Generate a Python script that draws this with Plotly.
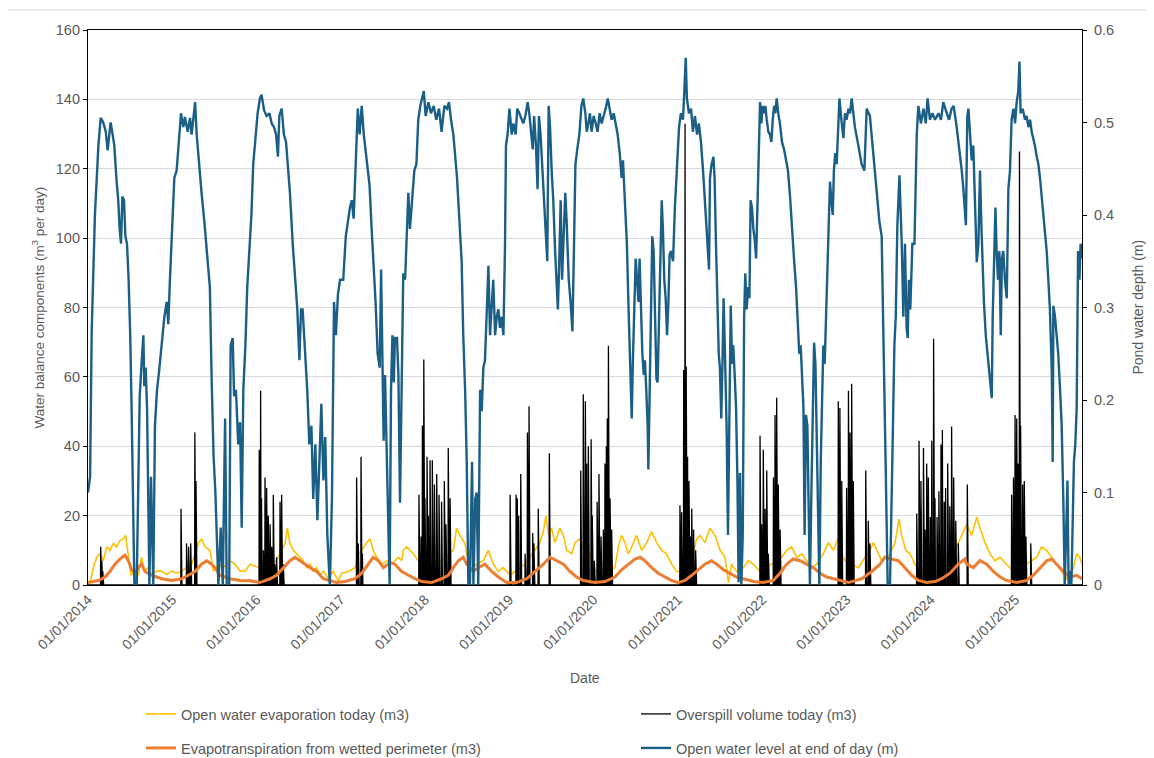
import numpy as np
import pandas as pd
import plotly.graph_objects as go

START = pd.Timestamp("2014-01-01")
END_DAY = 4307  # last day shown on the axis (days after START)

# ---- Open water level at end of day (m), secondary axis ----
level_day = [0, 9, 16, 30, 45, 55, 66, 77, 85, 91, 98, 105, 114, 124, 131, 137, 143, 149, 156, 162, 169, 176, 183, 189, 195, 201, 211, 218, 224, 233, 240, 244, 250, 256, 261, 266, 273, 279, 283, 290, 299, 308, 319, 331, 341, 348, 355, 365, 374, 384, 394, 403, 413, 420, 432, 442, 449, 458, 464, 471, 481, 492, 504, 515, 528,
             536, 544, 552, 558, 565, 575, 584, 594, 601, 612, 618, 627, 633, 641, 651, 659, 666, 673, 682, 690, 699, 708, 716, 726, 735, 745, 752, 763, 774, 786, 796, 806, 815, 823, 829, 839, 849, 858, 866, 875, 887, 897, 907, 916, 923, 930, 940, 950, 959, 968, 976, 985, 994, 1002, 1011, 1020, 1028, 1037, 1048, 1057, 1066, 1074, 1083, 1092,
             1106, 1117, 1125, 1135, 1143, 1151, 1160, 1169, 1177, 1186, 1195, 1203, 1212, 1220, 1229, 1238, 1246, 1255, 1264, 1270, 1275, 1281, 1287, 1294, 1301, 1307, 1313, 1319, 1325, 1330, 1339, 1345, 1352, 1359, 1366, 1374, 1381, 1388, 1395, 1405, 1414, 1423, 1431, 1440, 1449, 1455, 1463, 1475, 1486, 1498, 1509, 1521, 1532, 1544, 1556, 1564, 1573, 1583, 1590, 1599, 1608,
             1619, 1626, 1634, 1641, 1648, 1655, 1664, 1670, 1678, 1684, 1691, 1699, 1706, 1713, 1720, 1727, 1735, 1742, 1749, 1756, 1764, 1771, 1778, 1785, 1792, 1800, 1807, 1811, 1818, 1826, 1836, 1843, 1853, 1860, 1869, 1878, 1886, 1895, 1905, 1912, 1920, 1927, 1933, 1941, 1948, 1954, 1961, 1970, 1979, 1985, 1990, 1996, 2002, 2009, 2016, 2024, 2031, 2036, 2042, 2048, 2054, 2061, 2068, 2074, 2083, 2091, 2099, 2106, 2112, 2120, 2129, 2138, 2146, 2155,
             2161, 2168, 2175, 2182, 2191, 2200, 2208, 2217, 2226, 2234, 2243, 2252, 2260, 2269, 2278, 2286, 2295, 2304, 2312, 2318, 2324, 2330, 2335, 2341, 2347, 2353, 2356, 2361, 2367, 2373, 2379, 2385, 2390, 2396, 2402, 2408, 2413, 2419, 2425, 2428, 2434, 2439, 2445, 2451, 2457, 2463, 2468, 2474, 2480, 2486, 2491, 2497, 2503, 2509, 2515, 2520, 2526, 2535, 2543, 2552, 2561, 2569, 2578, 2584, 2590, 2595, 2604, 2613, 2621, 2630, 2639, 2647, 2656, 2665, 2673, 2682, 2691,
             2695, 2702, 2710, 2715, 2721, 2727, 2733, 2738, 2744, 2750, 2754, 2760, 2767, 2773, 2779, 2785, 2791, 2796, 2802, 2808, 2814, 2819, 2825, 2831, 2837, 2843, 2848, 2854, 2860, 2866, 2871, 2877, 2883, 2889, 2895, 2900, 2906, 2912, 2918, 2923, 2929, 2935, 2941, 2948, 2955, 2961, 2967, 2973, 2978, 2984, 2991, 2998, 3007, 3016, 3025, 3033, 3042, 3050, 3059, 3068, 3076, 3082, 3088, 3094, 3100, 3105, 3111, 3117, 3123, 3128, 3134, 3140, 3146, 3152, 3157, 3163, 3169, 3175, 3180, 3186, 3192, 3198, 3204, 3209, 3215, 3221, 3227, 3232, 3238, 3244, 3250, 3256,
             3266, 3273, 3280, 3287, 3295, 3302, 3309, 3316, 3323, 3338, 3352, 3364, 3374, 3388, 3403, 3417, 3429, 3439, 3449, 3456, 3465, 3475, 3485, 3494, 3500, 3507, 3516, 3526, 3533, 3540, 3547, 3552, 3557, 3563, 3572, 3581, 3591, 3598, 3609, 3620, 3630, 3638, 3648, 3659, 3670, 3685, 3696, 3706, 3721, 3731, 3742, 3751, 3764, 3778,
             3786, 3793, 3800, 3804, 3810, 3815, 3822, 3829, 3836, 3843, 3851, 3858, 3865, 3871, 3877, 3882, 3890, 3897, 3906, 3916, 3920, 3926, 3932, 3937, 3943, 3949, 3955, 3960, 3966, 3973, 3981, 3988, 3995, 4002, 4010, 4017, 4024, 4031, 4036, 4041, 4050, 4060, 4067, 4075, 4082, 4089, 4096, 4103, 4111, 4118, 4125, 4132, 4140, 4147, 4154, 4161, 4168, 4176, 4180, 4183, 4190, 4197, 4204, 4212, 4219, 4226, 4232, 4238, 4244, 4249, 4255, 4261, 4267, 4272, 4278, 4284, 4290, 4296, 4301, 4307]
level_m = [0.10, 0.117, 0.274, 0.40, 0.475, 0.505, 0.50, 0.49, 0.47, 0.487, 0.50, 0.49, 0.475, 0.436, 0.416, 0.385, 0.369, 0.42, 0.416, 0.377, 0.369, 0.33, 0.27, 0.19, 0.113, 0, 0, 0.133, 0.204, 0.243, 0.27, 0.215, 0.235, 0.19, 0.054, 0, 0.117, 0.062, 0, 0.172, 0.211, 0.231, 0.259, 0.29, 0.306, 0.282, 0.33, 0.389, 0.44, 0.448, 0.487, 0.51, 0.495, 0.506, 0.49, 0.505, 0.487, 0.506, 0.522, 0.487, 0.455, 0.424, 0.393, 0.361, 0.322,
           0.22, 0.14, 0.10, 0.054, 0, 0.062, 0, 0.18, 0, 0, 0.259, 0.267, 0.204, 0.211, 0.152, 0.176, 0.062, 0.211, 0.259, 0.322, 0.361, 0.40, 0.455, 0.483, 0.51, 0.526, 0.53, 0.513, 0.507, 0.51, 0.499, 0.495, 0.487, 0.463, 0.507, 0.515, 0.487, 0.479, 0.455, 0.424, 0.369, 0.33, 0.298, 0.243, 0.298, 0.298, 0.25, 0.211, 0.152, 0.172, 0.093, 0.152, 0.07, 0.133, 0.196, 0.113, 0.16, 0.054, 0, 0.093, 0.306, 0.27, 0.314, 0.33,
           0.33, 0.377, 0.393, 0.408, 0.416, 0.396, 0.455, 0.515, 0.487, 0.518, 0.487, 0.467, 0.448, 0.432, 0.385, 0.345, 0.306, 0.25, 0.235, 0.341, 0.231, 0.156, 0.227, 0.133, 0.066, 0, 0.211, 0.27, 0.219, 0.267, 0.267, 0.227, 0.089, 0.211, 0.337, 0.33, 0.385, 0.424, 0.385, 0.416, 0.448, 0.455, 0.503, 0.518, 0.526, 0.534, 0.507, 0.522, 0.51, 0.518, 0.503, 0.515, 0.49, 0.518, 0.515, 0.522, 0.503, 0.487, 0.467, 0.44, 0.40,
           0.35, 0.27, 0.211, 0.133, 0, 0, 0.133, 0, 0.093, 0.10, 0, 0.211, 0.188, 0.235, 0.243, 0.29, 0.345, 0.27, 0.298, 0.33, 0.27, 0.29, 0.298, 0.278, 0.29, 0.27, 0.369, 0.475, 0.487, 0.515, 0.487, 0.499, 0.487, 0.515, 0.51, 0.503, 0.499, 0.507, 0.522, 0.51, 0.487, 0.471, 0.507, 0.475, 0.428, 0.507, 0.487, 0.44, 0.408, 0.377, 0.35, 0.518, 0.495, 0.448, 0.416, 0.361, 0.322, 0.298, 0.35, 0.416, 0.33, 0.369, 0.424, 0.393, 0.33, 0.306, 0.274, 0.369, 0.455, 0.471, 0.487, 0.518, 0.526, 0.51,
           0.49, 0.499, 0.51, 0.49, 0.507, 0.499, 0.49, 0.51, 0.499, 0.507, 0.515, 0.526, 0.515, 0.503, 0.51, 0.499, 0.487, 0.467, 0.44, 0.459, 0.428, 0.408, 0.369, 0.31, 0.25, 0.211, 0.18, 0.243, 0.29, 0.353, 0.33, 0.306, 0.353, 0.298, 0.25, 0.227, 0.243, 0.211, 0.172, 0.125, 0.227, 0.322, 0.377, 0.361, 0.282, 0.223, 0.219, 0.29, 0.369, 0.416, 0.385, 0.33, 0.31, 0.27, 0.306, 0.357, 0.361, 0.35, 0.408, 0.455, 0.495, 0.51, 0.503, 0.534, 0.57, 0.526, 0.51, 0.515, 0.49, 0.507, 0.487, 0.499, 0.479, 0.448, 0.416, 0.369, 0.341,
           0.44, 0.455, 0.463, 0.44, 0.369, 0.31, 0.25, 0.235, 0.18, 0.25, 0.31, 0.25, 0.172, 0.054, 0.211, 0.302, 0.239, 0.259, 0.227, 0.192, 0.113, 0.003, 0.121, 0, 0.054, 0.29, 0.337, 0.298, 0.322, 0.31, 0.416, 0.408, 0.385, 0.373, 0.353, 0.408, 0.467, 0.522, 0.499, 0.518, 0.51, 0.518, 0.503, 0.49, 0.487, 0.479, 0.503, 0.518, 0.51, 0.526, 0.51, 0.499, 0.479, 0.471, 0.459, 0.448, 0.42, 0.385, 0.353, 0.322, 0.278, 0.25, 0.259, 0.227, 0.192, 0.054, 0.184, 0.172, 0.054, 0, 0.093, 0.192, 0.262, 0.239, 0.172, 0.054, 0, 0.133, 0.192, 0.259, 0.239, 0.29, 0.337, 0.40, 0.436, 0.416, 0.40, 0.448, 0.467, 0.455, 0.487, 0.526,
           0.499, 0.483, 0.51, 0.503, 0.515, 0.51, 0.526, 0.507, 0.495, 0.475, 0.455, 0.448, 0.515, 0.507, 0.467, 0.428, 0.393, 0.377, 0.25, 0.133, 0, 0, 0.133, 0.259, 0.29, 0.389, 0.443, 0.369, 0.29, 0.369, 0.278, 0.267, 0.33, 0.298, 0.369, 0.369, 0.487, 0.518, 0.499, 0.515, 0.499, 0.526, 0.503, 0.51, 0.503, 0.51, 0.503, 0.522, 0.51, 0.503, 0.515, 0.518, 0.495, 0.467,
           0.448, 0.428, 0.396, 0.389, 0.507, 0.515, 0.487, 0.459, 0.475, 0.408, 0.349, 0.369, 0.448, 0.389, 0.33, 0.306, 0.27, 0.25, 0.227, 0.202, 0.29, 0.369, 0.408, 0.361, 0.33, 0.361, 0.27, 0.353, 0.361, 0.33, 0.31, 0.428, 0.448, 0.503, 0.515, 0.499, 0.522, 0.534, 0.566, 0.51, 0.515, 0.503, 0.507, 0.495, 0.503, 0.49, 0.483, 0.475, 0.463, 0.455, 0.44, 0.42, 0.40, 0.385, 0.361, 0.33, 0.298, 0.231, 0.133, 0.302, 0.29, 0.27, 0.25, 0.211, 0.172, 0.093, 0, 0.054, 0.113, 0, 0.015, 0, 0.093, 0.133, 0.152, 0.192, 0.361, 0.33, 0.369, 0.353]

# ---- Open water evaporation today (m3) ----
evap_day = [0, 9, 23, 38, 52, 66, 81, 95, 110, 124, 139, 153, 163, 175, 186, 201, 218, 232, 244, 261, 276, 297, 319, 341, 362, 384, 406, 427, 449, 478, 492, 507, 529, 543, 565, 586, 615, 637, 659, 680, 702, 724, 745, 767, 789, 817, 839, 854, 864, 875, 890, 904, 918, 933, 947, 962, 976, 991, 1005, 1020, 1041, 1063, 1085, 1099, 1128, 1157, 1171, 1186, 1208, 1222, 1236, 1251, 1273, 1294, 1316, 1345, 1359, 1366, 1381, 1395, 1410, 1431, 1453, 1475, 1504, 1532, 1561, 1583, 1597, 1612, 1633, 1655, 1684, 1713, 1735, 1756, 1778, 1800, 1829, 1850, 1872, 1894, 1915, 1937, 1958, 1973, 1985, 1996, 2009, 2023, 2045, 2060, 2074, 2096, 2110, 2132, 2153, 2175, 2197, 2226, 2255, 2283, 2298, 2312, 2327, 2341, 2356, 2377, 2399, 2421, 2442, 2464, 2486, 2507, 2529, 2551, 2572, 2594, 2616, 2637, 2652, 2673, 2695, 2717, 2739, 2760, 2775, 2789, 2811, 2840, 2861, 2883, 2912, 2941, 2962, 2984, 3006, 3027, 3049, 3071, 3092, 3114, 3136, 3157, 3186, 3208, 3230, 3251, 3258, 3280, 3309, 3338, 3367, 3388, 3403, 3417, 3439, 3468, 3497, 3514, 3526, 3543, 3562, 3583, 3612, 3641, 3670, 3699, 3728, 3757, 3786, 3793, 3807, 3829, 3851, 3865, 3887, 3908, 3930, 3952, 3981, 4010, 4038, 4067, 4089, 4111, 4132, 4154, 4176, 4197, 4219, 4241, 4262, 4284, 4298, 4307]
evap_m3 = [0.5, 0.7, 5, 8, 9, 7, 11, 10, 12, 11, 12.8, 13.3, 14.3, 9, 2.8, 3.9, 2.8, 8, 3.9, 5, 2.8, 4, 4, 3, 4, 3.4, 4, 5, 6, 12, 13.3, 11, 10, 4, 6, 5, 7, 6, 4, 4, 6, 5.4, 5, 6, 6, 7, 10, 12, 16.4, 12, 10, 9, 8, 7, 5, 6, 4, 5, 3, 4, 2, 4, 1, 3.4, 3.9, 5, 9, 10, 12.2, 13.3, 10, 8, 6, 7, 6, 8, 7, 10, 11, 10, 9, 7, 5, 6, 7, 7, 9, 10, 16.4, 14.3, 12, 4, 6, 7, 10, 6, 3.9, 5, 2.8, 3.9, 5, 6, 8, 10, 12.2, 15.4, 20, 14.3, 16.4, 12.2, 16.4, 14.3, 10, 9, 12.2, 13.3, 10, 9, 3.9, 5, 3.9, 5, 11, 14.3, 12.2, 9, 11, 14.3, 10, 12.2, 15.4, 12.2, 10, 9, 6, 3.9, 3.9, 5, 7, 13.3, 14.3, 12.2, 16.4, 14.3, 10, 8, 0.7, 6, 3.9, 5, 7, 6, 3.9, 5, 6, 7, 8, 10, 11, 8, 9, 7, 5, 6, 9, 12.2, 10, 13.3, 10, 7, 6, 5, 8, 10, 12.2, 10, 7, 8, 12.2, 19, 14.3, 10, 9, 6, 3.9, 5, 6, 7, 8, 10, 14.3, 15.4, 17.5, 14.3, 19.6, 16.4, 12.2, 9, 7, 8, 6, 3.9, 5, 6, 7, 8, 11, 10, 8, 6, 3.9, 1.8, 2.8, 9, 8, 6]

# ---- Evapotranspiration from wetted perimeter (m3) ----
et_day = [0, 45, 74, 95, 117, 139, 160, 175, 189, 204, 218, 232, 247, 276, 319, 362, 406, 435, 464, 492, 514, 536, 550, 572, 615, 659, 702, 745, 789, 817, 846, 875, 897, 918, 940, 962, 991, 1020, 1048, 1077, 1114, 1157, 1186, 1215, 1236, 1258, 1280, 1309, 1330, 1359, 1388, 1417, 1446, 1489, 1532, 1561, 1583, 1605, 1626, 1641, 1670, 1691, 1720, 1749, 1778, 1814, 1857, 1901, 1937, 1973, 2002, 2031, 2060, 2088, 2117, 2146, 2175, 2197, 2240, 2283, 2312, 2341, 2370, 2392, 2413, 2442, 2471, 2500, 2529, 2558, 2587, 2616, 2644, 2673, 2702, 2724, 2753, 2782, 2811, 2840, 2883, 2926, 2970, 2998, 3027, 3056, 3085, 3114, 3143, 3172, 3201, 3230, 3258, 3295, 3352, 3396, 3432, 3453, 3482, 3511, 3540, 3569, 3598, 3634, 3670, 3699, 3735, 3771, 3800, 3807, 3836, 3865, 3894, 3923, 3952, 3981, 4024, 4067, 4096, 4125, 4154, 4176, 4197, 4226, 4255, 4284, 4307]
et_m3 = [0.7, 1.3, 2.3, 3.9, 6, 7.5, 8.6, 7, 4.4, 3.4, 5, 6, 3.9, 2.8, 1.8, 1.3, 1.8, 2.8, 3.9, 6, 7, 6, 5, 2.8, 1.8, 1.3, 1.2, 0.7, 1.8, 2.8, 5, 7, 8, 7, 6, 5, 3.9, 1.8, 1.3, 0.7, 1, 1.8, 3.4, 6, 8, 7, 5, 6.5, 6, 3.9, 2.8, 1.8, 1, 0.7, 1.8, 2.8, 5, 7, 8, 6, 3.9, 5, 6, 3.9, 2.3, 0.7, 0.7, 1.8, 3.9, 6, 8, 7, 6, 3.9, 2.3, 1.3, 1, 0.7, 1, 2.3, 4.4, 6, 7.5, 8, 7, 5, 3.4, 2.3, 1.3, 0.7, 1.3, 2.8, 4.4, 6, 7, 6, 4.4, 3.4, 2.3, 1.8, 1, 0.7, 1.3, 3.4, 6, 7.5, 7, 6, 5, 3.4, 2.3, 1.8, 1.3, 0.7, 1.8, 3.9, 6, 8, 7.5, 7, 5, 2.8, 1.3, 0.7, 1, 1.8, 3.4, 6, 7.5, 6, 5, 7, 6, 3.9, 2.3, 1.3, 0.7, 1.3, 2.8, 5, 7, 7.5, 6, 3.9, 2.3, 2.8, 1.8]

# ---- Overspill volume today (m3): days with overspill (zero on all other days) ----
spill_day = [55, 60, 64, 403, 427, 436, 445, 463, 468, 742, 748, 752, 760, 767, 774, 781, 789, 796, 803, 810, 817, 832, 839, 846, 1164, 1171, 1183, 1189, 1434, 1443, 1449, 1455, 1460, 1469, 1475, 1482, 1492, 1501, 1511, 1521, 1532, 1544, 1551, 1561, 1569, 1829, 1855, 1860, 1866, 1875, 1894, 1904, 1911, 1927, 1932, 1951, 1999, 2135, 2146, 2155, 2161, 2168, 2180, 2185, 2194, 2206, 2214, 2223, 2233, 2240, 2246, 2250, 2255, 2262, 2269, 2565, 2572, 2581, 2587, 2592, 2598, 2604, 2610, 2616, 2624, 2633, 2912, 2919, 2926, 2934, 2941, 2948, 2970, 2977, 2984, 2991, 2999, 3251, 3258, 3266, 3287, 3295, 3302, 3309, 3316, 3370, 3381, 3388, 3591, 3601, 3609, 3620, 3627, 3634, 3641, 3650, 3656, 3664, 3670, 3679, 3687, 3696, 3702, 3710, 3716, 3725, 3734, 3742, 3751, 3760, 3771, 3810, 4002, 4010, 4017, 4024, 4031, 4036, 4041, 4050, 4057, 4064, 4085]
spill_m3 = [11, 7, 4, 22, 12, 11, 12, 44, 30, 39, 56, 25, 10, 31, 28, 20, 17.5, 11, 26, 6, 8, 24, 26, 6, 31, 12, 37, 9, 26, 14, 46, 65, 25, 37, 20, 36, 36, 29, 32, 26, 24, 30, 17.5, 39.5, 25, 26, 26, 25, 20, 32, 9, 44, 51.5, 15, 12, 22, 38, 33, 55, 53, 35, 40, 42, 20, 7, 24, 32, 14, 16, 35, 40, 48, 69, 25, 16, 23, 21, 62, 133, 63, 37, 30, 14, 22, 16, 10, 43, 17.5, 39, 22, 33, 9, 31, 49, 54, 29, 16, 53, 51, 30, 28, 56, 44, 58, 30, 33, 18.5, 12, 20.6, 41.6, 30, 39.5, 16, 35, 31, 19.6, 41.6, 71, 25, 19.6, 27, 40.5, 44.7, 24, 28, 35, 22.7, 45.7, 31, 18.5, 12, 29, 26, 31, 49, 48, 35, 125, 46, 29, 30, 14, 12]

year_ticks = ["2014-01-01", "2015-01-01", "2016-01-01", "2017-01-01", "2018-01-01", "2019-01-01",
              "2020-01-01", "2021-01-01", "2022-01-01", "2023-01-01", "2024-01-01", "2025-01-01"]


def to_dates(days):
    return START + pd.to_timedelta(np.asarray(days), unit="D")


spill_daily = np.zeros(END_DAY + 1)
spill_daily[np.asarray(spill_day)] = spill_m3
all_days = np.arange(END_DAY + 1)

FONT = "Liberation Sans, Arial, sans-serif"
GREY = "#595959"

# The page body has an 8px margin, so the figure is drawn 8px smaller and
# all pixel targets below are given in window coordinates minus that offset.
OFF = 8
W, H = 1154 - OFF, 758 - OFF
PL, PR, PT, PB = 88, 1082, 30, 585  # plot area in window pixels
L, T = PL - OFF, PT - OFF
R = W - (PR - OFF)
B = H - (PB - OFF)
pw, ph = PR - PL, PB - PT


def px_x(x):
    return (x - PL) / pw


def px_y(y):
    return (PB - y) / ph


fig = go.Figure()
fig.add_trace(go.Scatter(x=to_dates(evap_day), y=evap_m3, mode="lines",
                         name="Open water evaporation today (m3)",
                         line=dict(color="#FFC000", width=1.6), legend="legend"))
fig.add_trace(go.Scatter(x=to_dates(all_days), y=spill_daily, mode="lines",
                         name="Overspill volume today (m3)",
                         line=dict(color="#000000", width=1.3), legend="legend2"))
fig.add_trace(go.Scatter(x=to_dates(et_day), y=et_m3, mode="lines",
                         name="Evapotranspiration from wetted perimeter (m3)",
                         line=dict(color="#ED7D31", width=3), legend="legend3"))
fig.add_trace(go.Scatter(x=to_dates(level_day), y=level_m, mode="lines",
                         name="Open water level at end of day (m)", yaxis="y2",
                         line=dict(color="#1B5E86", width=2.4), legend="legend4"))


def leg(xpx, ypx):
    return dict(orientation="h", x=px_x(xpx), xanchor="left", y=px_y(ypx), yanchor="middle",
                font=dict(size=14.5, color=GREY), bgcolor="rgba(0,0,0,0)", itemwidth=30,
                borderwidth=0)


fig.update_layout(
    width=W, height=H,
    margin=dict(l=L, r=R, t=T, b=B, autoexpand=False),
    paper_bgcolor="white", plot_bgcolor="white",
    font=dict(family=FONT, size=14, color=GREY),
    xaxis=dict(type="date", range=[START, START + pd.Timedelta(days=END_DAY)],
               tickvals=year_ticks, tickformat="%d/%m/%Y", tickangle=-45,
               tickfont=dict(size=14, color=GREY),
               showgrid=False, showline=True, linecolor="#000000", linewidth=1.2,
               mirror=True, ticks="", zeroline=False),
    yaxis=dict(range=[0, 160], dtick=20, showgrid=True, gridcolor="#D9D9D9", gridwidth=1,
               showline=True, linecolor="#000000", linewidth=1.2, ticks="outside",
               ticklen=4, tickcolor="#000000", tickfont=dict(size=14.5, color=GREY),
               zeroline=False),
    yaxis2=dict(range=[0, 0.6], dtick=0.1, overlaying="y", side="right", showgrid=False,
                showline=True, linecolor="#000000", linewidth=1.2, ticks="outside",
                ticklen=4, tickcolor="#000000", tickfont=dict(size=14.5, color=GREY),
                tickformat="~g", zeroline=False, ticklabelstandoff=4),
    showlegend=True,
    legend=leg(141, 714),
    legend2=leg(636, 714),
    legend3=leg(141, 748),
    legend4=leg(636, 748),
    shapes=[dict(type="rect", xref="paper", yref="paper",
                 x0=px_x(7), x1=px_x(1151), y0=px_y(770), y1=px_y(10),
                 line=dict(color="#D9D9D9", width=1), fillcolor="rgba(0,0,0,0)", layer="below")],
    annotations=[
        dict(text="Date", xref="paper", yref="paper", x=0.5, y=px_y(678),
             showarrow=False, font=dict(size=14, color=GREY), xanchor="center", yanchor="middle"),
        dict(text="Water balance components (m<sup>3</sup> per day)", xref="paper", yref="paper",
             x=px_x(38), y=0.5, textangle=-90, showarrow=False,
             font=dict(size=13.5, color=GREY), xanchor="center", yanchor="middle"),
        dict(text="Pond water depth (m)", xref="paper", yref="paper",
             x=px_x(1137), y=0.5, textangle=-90, showarrow=False,
             font=dict(size=14, color=GREY), xanchor="center", yanchor="middle"),
    ],
)

fig.write_html("out.html")
